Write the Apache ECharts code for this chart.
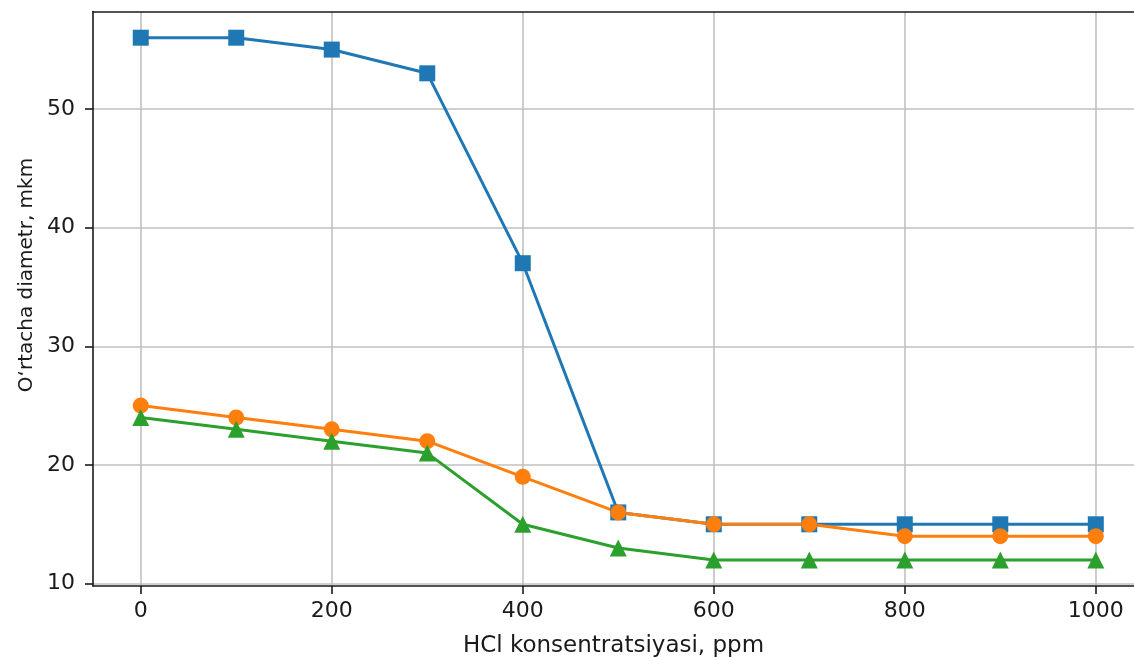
<!DOCTYPE html>
<html><head><meta charset="utf-8">
<script src="https://cdn.jsdelivr.net/npm/echarts@6/dist/echarts.min.js"></script>
<style>html,body{margin:0;padding:0;background:#fff}#c{width:1134px;height:657px}</style>
</head><body><div id="c"></div>
<script>
const xValues = [0,100,200,300,400,500,600,700,800,900,1000];
const seriesA = [56,56,55,53,37,16,15,15,15,15,15];
const seriesB = [25,24,23,22,19,16,15,15,14,14,14];
const seriesC = [24,23,22,21,15,13,12,12,12,12,12];
const xTicks = [0,200,400,600,800,1000];
const yTicks = [10,20,30,40,50];
const xTitle = 'HCl konsentratsiyasi, ppm';
const yTitle = 'O‘rtacha diametr, mkm';

const pair = arr => xValues.map((x,i)=>[x,arr[i]]);
const font = 'DejaVu Sans';
const ink = '#1a1a1a';
const chart = echarts.init(document.getElementById('c'), null, {renderer:'canvas'});
function mk(data,color,symbol,size){
  return {type:'line',xAxisIndex:0,yAxisIndex:0,data:pair(data),symbol:symbol,symbolSize:size,showSymbol:true,
    lineStyle:{color:color,width:3},itemStyle:{color:color},animation:false,z:3};
}
chart.setOption({
  animation:false,
  grid:{left:93,top:11.6,right:0,bottom:71,show:false,outerBoundsMode:'none',containLabel:false},
  graphic:[{type:'text',x:27,y:275,rotation:Math.PI/2,
    style:{text:yTitle,font:'20px "DejaVu Sans"',fill:ink,align:'center',verticalAlign:'middle'}}],
  xAxis:[{type:'value',min:-50,max:1040,
    name:xTitle,nameLocation:'middle',nameGap:49,
    nameTextStyle:{fontFamily:font,fontSize:23,color:ink},
    axisLine:{show:true,onZero:false,lineStyle:{color:ink,width:1.6}},
    axisTick:{show:true,length:8,lineStyle:{color:ink,width:1.6},customValues:xTicks},
    axisLabel:{fontFamily:font,fontSize:22,color:ink,margin:14,customValues:xTicks,formatter:v=>String(v)},
    splitLine:{show:true,lineStyle:{color:'#c0c0c0',width:1.6}}},
   {type:'value',position:'top',min:-50,max:1040,
    axisLine:{show:true,onZero:false,lineStyle:{color:ink,width:1.6}},
    axisTick:{show:false},axisLabel:{show:false},splitLine:{show:false}}],
  yAxis:{type:'value',min:9.8,max:58.2,
    axisLine:{show:true,onZero:false,lineStyle:{color:ink,width:1.6}},
    axisTick:{show:true,length:8,lineStyle:{color:ink,width:1.6},customValues:yTicks},
    axisLabel:{fontFamily:font,fontSize:22,color:ink,margin:18,customValues:yTicks},
    splitLine:{show:true,lineStyle:{color:'#c0c0c0',width:1.6}}},
  series:[
    mk(seriesA,'#1f77b4','rect',16),
    mk(seriesB,'#ff7f0e','circle',16),
    mk(seriesC,'#2ca02c','triangle',17)
  ]
});
</script></body></html>
